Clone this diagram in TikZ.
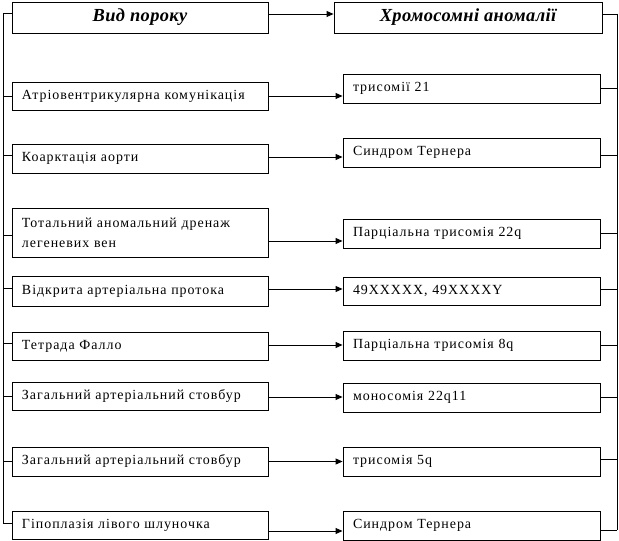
\documentclass[tikz,border=0pt]{standalone}
\usepackage{fontspec}
\setmainfont{Liberation Serif}
\newfontfamily\boxfont[LetterSpace=7]{Liberation Serif}
\newfontfamily\headfont[LetterSpace=2]{Liberation Serif}
\usetikzlibrary{arrows.meta}
\begin{document}
\begin{tikzpicture}[x=1bp,y=-1bp,
  every path/.style={line width=0.9bp},
  basebox/.style={draw, line width=0.9bp, inner sep=0pt, align=left,
    font=\boxfont\fontsize{14}{20}\selectfont},
  lbox/.style={basebox, minimum width=256bp, text width=236bp},
  rbox/.style={basebox, minimum width=257bp, text width=237bp},
  hbox/.style={draw, line width=0.9bp, inner sep=0pt, align=center,
    font=\headfont\fontsize{18.5}{22}\selectfont\bfseries\itshape},
  arr/.style={-{Triangle[length=7bp,width=6bp]}},
  bus/.style={line width=0.9bp}]
\useasboundingbox (0,0) rectangle (619,541);
% header
\node[hbox, minimum width=256bp, minimum height=31bp] (hl) at (140,17.5) {Вид пороку};
\node[hbox, minimum width=268bp, minimum height=31bp] (hr) at (468,17.5) {Хромосомні аномалії};
% left boxes
\node[lbox, minimum height=28bp] (l1) at (140,96) {Атріовентрикулярна комунікація};
\node[lbox, minimum height=29bp] (l2) at (140,158.5) {Коарктація аорти};
\node[lbox, minimum height=49bp] (l3) at (140,232.5) {Тотальний аномальний дренаж\\легеневих вен};
\node[lbox, minimum height=30bp] (l4) at (140,291) {Відкрита артеріальна протока};
\node[lbox, minimum height=28bp] (l5) at (140,346) {Тетрада Фалло};
\node[lbox, minimum height=28bp] (l6) at (140,396) {Загальний артеріальний стовбур};
\node[lbox, minimum height=29bp] (l7) at (140,461.5) {Загальний артеріальний стовбур};
\node[lbox, minimum height=28bp] (l8) at (140,525) {Гіпоплазія лівого шлуночка};
% right boxes
\node[rbox, minimum height=29bp] (r1) at (471.5,88.5) {трисомії 21};
\node[rbox, minimum height=29bp] (r2) at (471.5,152.5) {Синдром Тернера};
\node[rbox, minimum height=29bp] (r3) at (471.5,233.5) {Парціальна трисомія 22q};
\node[rbox, minimum height=28bp] (r4) at (471.5,291) {49XXXXX, 49XXXXY};
\node[rbox, minimum height=29bp] (r5) at (471.5,345.5) {Парціальна трисомія 8q};
\node[rbox, minimum height=29bp] (r6) at (471.5,397.5) {моносомія 22q11};
\node[rbox, minimum height=29bp] (r7) at (471.5,461.5) {трисомія 5q};
\node[rbox, minimum height=29bp] (r8) at (471.5,525.5) {Синдром Тернера};
% bus coordinates
\coordinate (lbt) at (3,13);
\coordinate (lbb) at (3,523);
\coordinate (rbt) at (617,14);
\coordinate (rbb) at (617,530);
% connectors
\draw[arr] ([yshift=3.5bp]hl.east) -- ([yshift=3.5bp]hl.east -| hr.west);
\draw[arr] (l1.east) -- (l1.east -| r1.west);
\draw[arr] ([yshift=1.5bp]l2.east) -- ([yshift=1.5bp]l2.east -| r2.west);
\draw[arr] ([yshift=-8.5bp]l3.east) -- ([yshift=-8.5bp]l3.east -| r3.west);
\draw[arr] ([yshift=2bp]l4.east) -- ([yshift=2bp]l4.east -| r4.west);
\draw[arr] ([yshift=1bp]l5.east) -- ([yshift=1bp]l5.east -| r5.west);
\draw[arr] ([yshift=-1bp]l6.east) -- ([yshift=-1bp]l6.east -| r6.west);
\draw[arr] (l7.east) -- (l7.east -| r7.west);
\draw[arr] ([yshift=-6bp]l8.east) -- ([yshift=-6bp]l8.east -| r8.west);
% left bus
\draw[bus] (lbt) -- (lbb);
\draw ([yshift=4.5bp]hl.west) -- ([yshift=4.5bp]hl.west -| lbt);
\draw (l1.west) -- (l1.west -| lbt);
\draw ([yshift=3.5bp]l2.west) -- ([yshift=3.5bp]l2.west -| lbt);
\draw ([yshift=-2.5bp]l3.west) -- ([yshift=-2.5bp]l3.west -| lbt);
\draw ([yshift=3bp]l4.west) -- ([yshift=3bp]l4.west -| lbt);
\draw ([yshift=3bp]l5.west) -- ([yshift=3bp]l5.west -| lbt);
\draw (l6.west) -- (l6.west -| lbt);
\draw (l7.west) -- (l7.west -| lbt);
\draw ([yshift=2bp]l8.west) -- ([yshift=2bp]l8.west -| lbt);
% right bus
\draw[bus] (rbt) -- (rbb);
\draw ([yshift=3.5bp]hr.east) -- ([yshift=3.5bp]hr.east -| rbt);
\draw (r1.east) -- (r1.east -| rbt);
\draw ([yshift=-2.5bp]r2.east) -- ([yshift=-2.5bp]r2.east -| rbt);
\draw (r3.east) -- (r3.east -| rbt);
\draw ([yshift=2bp]r4.east) -- ([yshift=2bp]r4.east -| rbt);
\draw (r5.east) -- (r5.east -| rbt);
\draw (r6.east) -- (r6.east -| rbt);
\draw ([yshift=2.5bp]r7.east) -- ([yshift=2.5bp]r7.east -| rbt);
\draw ([yshift=-4.5bp]r8.east) -- ([yshift=-4.5bp]r8.east -| rbt);
\end{tikzpicture}
\end{document}
